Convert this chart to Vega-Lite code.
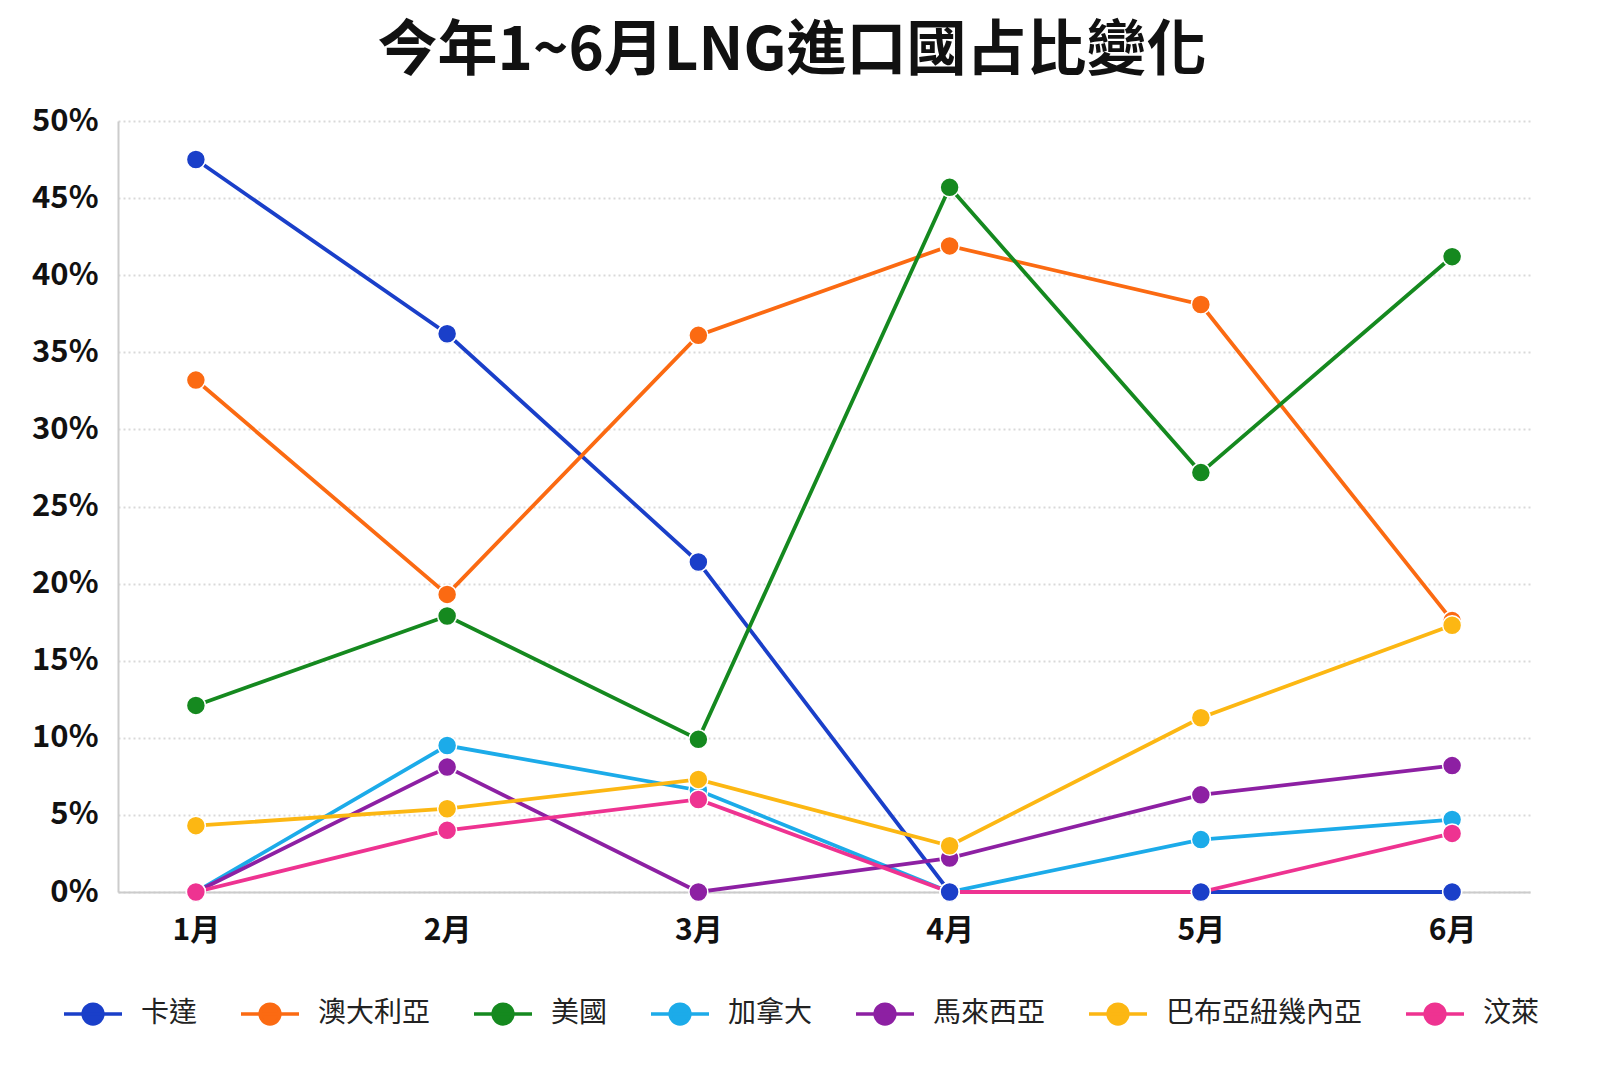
{
  "$schema": "https://vega.github.io/schema/vega-lite/v6.json",
  "description": "今年1~6月LNG進口國占比變化",
  "autosize": {"type": "none"},
  "padding": {"left": 118, "top": 121, "right": 70, "bottom": 179},
  "width": 1412,
  "height": 771,
  "background": "white",
  "config": {
    "font": "Noto Sans CJK TC",
    "view": {"stroke": null}
  },
  "title": {
    "text": "今年1~6月LNG進口國占比變化",
    "fontSize": 60,
    "fontWeight": "bold",
    "color": "#111111",
    "anchor": "middle",
    "dx": -32,
    "offset": 22
  },
  "data": {
    "values": [
      {"month": "1月", "country": "卡達", "value": 47.5},
      {"month": "2月", "country": "卡達", "value": 36.2},
      {"month": "3月", "country": "卡達", "value": 21.4},
      {"month": "4月", "country": "卡達", "value": 0},
      {"month": "5月", "country": "卡達", "value": 0},
      {"month": "6月", "country": "卡達", "value": 0},
      {"month": "1月", "country": "澳大利亞", "value": 33.2},
      {"month": "2月", "country": "澳大利亞", "value": 19.3},
      {"month": "3月", "country": "澳大利亞", "value": 36.1},
      {"month": "4月", "country": "澳大利亞", "value": 41.9},
      {"month": "5月", "country": "澳大利亞", "value": 38.1},
      {"month": "6月", "country": "澳大利亞", "value": 17.6},
      {"month": "1月", "country": "美國", "value": 12.1},
      {"month": "2月", "country": "美國", "value": 17.9},
      {"month": "3月", "country": "美國", "value": 9.9},
      {"month": "4月", "country": "美國", "value": 45.7},
      {"month": "5月", "country": "美國", "value": 27.2},
      {"month": "6月", "country": "美國", "value": 41.2},
      {"month": "1月", "country": "加拿大", "value": 0},
      {"month": "2月", "country": "加拿大", "value": 9.5},
      {"month": "3月", "country": "加拿大", "value": 6.6},
      {"month": "4月", "country": "加拿大", "value": 0},
      {"month": "5月", "country": "加拿大", "value": 3.4},
      {"month": "6月", "country": "加拿大", "value": 4.7},
      {"month": "1月", "country": "馬來西亞", "value": 0},
      {"month": "2月", "country": "馬來西亞", "value": 8.1},
      {"month": "3月", "country": "馬來西亞", "value": 0},
      {"month": "4月", "country": "馬來西亞", "value": 2.2},
      {"month": "5月", "country": "馬來西亞", "value": 6.3},
      {"month": "6月", "country": "馬來西亞", "value": 8.2},
      {"month": "1月", "country": "巴布亞紐幾內亞", "value": 4.3},
      {"month": "2月", "country": "巴布亞紐幾內亞", "value": 5.4},
      {"month": "3月", "country": "巴布亞紐幾內亞", "value": 7.3},
      {"month": "4月", "country": "巴布亞紐幾內亞", "value": 3.0},
      {"month": "5月", "country": "巴布亞紐幾內亞", "value": 11.3},
      {"month": "6月", "country": "巴布亞紐幾內亞", "value": 17.3},
      {"month": "1月", "country": "汶萊", "value": 0},
      {"month": "2月", "country": "汶萊", "value": 4.0},
      {"month": "3月", "country": "汶萊", "value": 6.0},
      {"month": "4月", "country": "汶萊", "value": 0},
      {"month": "5月", "country": "汶萊", "value": 0},
      {"month": "6月", "country": "汶萊", "value": 3.8}
    ]
  },
  "encoding": {
    "x": {
      "field": "month",
      "type": "ordinal",
      "sort": ["1月", "2月", "3月", "4月", "5月", "6月"],
      "scale": {"type": "point", "padding": 0.31},
      "axis": {
        "title": null,
        "labelAngle": 0,
        "labelFontSize": 30,
        "labelFontWeight": "bold",
        "labelColor": "#111111",
        "labelPadding": 23,
        "ticks": false,
        "grid": false,
        "domainColor": "#cccccc",
        "domainWidth": 2
      }
    },
    "y": {
      "field": "value",
      "type": "quantitative",
      "scale": {"domain": [0, 50], "nice": false},
      "axis": {
        "title": null,
        "values": [0, 5, 10, 15, 20, 25, 30, 35, 40, 45, 50],
        "labelExpr": "datum.value + '%'",
        "labelFontSize": 31,
        "labelFontWeight": "bold",
        "labelColor": "#111111",
        "labelPadding": 20,
        "ticks": false,
        "domainColor": "#cccccc",
        "domainWidth": 2,
        "gridColor": "#d9d9d9",
        "gridWidth": 2,
        "gridDash": [2, 3]
      }
    },
    "color": {
      "field": "country",
      "type": "nominal",
      "scale": {
        "domain": ["卡達", "澳大利亞", "美國", "加拿大", "馬來西亞", "巴布亞紐幾內亞", "汶萊"],
        "range": ["#1a3fc9", "#fb6a12", "#15891f", "#1cabe9", "#8d20a3", "#fcb713", "#ee3391"]
      },
      "legend": {
        "title": null,
        "orient": "none",
        "direction": "horizontal",
        "legendX": -56,
        "legendY": 862,
        "symbolType": "M-1,0L1,0M-0.34,0A0.34,0.34,0,1,1,0.34,0A0.34,0.34,0,1,1,-0.34,0Z",
        "symbolSize": 3364,
        "symbolStrokeWidth": 3.5,
        "labelFontSize": 28,
        "labelColor": "#222222",
        "labelLimit": 0,
        "labelOffset": 17,
        "columnPadding": 36
      }
    }
  },
  "layer": [
    {
      "mark": {"type": "line", "strokeWidth": 3.8}
    },
    {
      "mark": {"type": "point", "filled": true, "size": 360, "opacity": 1, "stroke": "white", "strokeWidth": 1.5}
    },
    {
      "transform": [{"filter": "datum.country === '卡達'"}],
      "mark": {"type": "point", "filled": true, "size": 360, "opacity": 1, "stroke": "white", "strokeWidth": 1.5}
    }
  ]
}
